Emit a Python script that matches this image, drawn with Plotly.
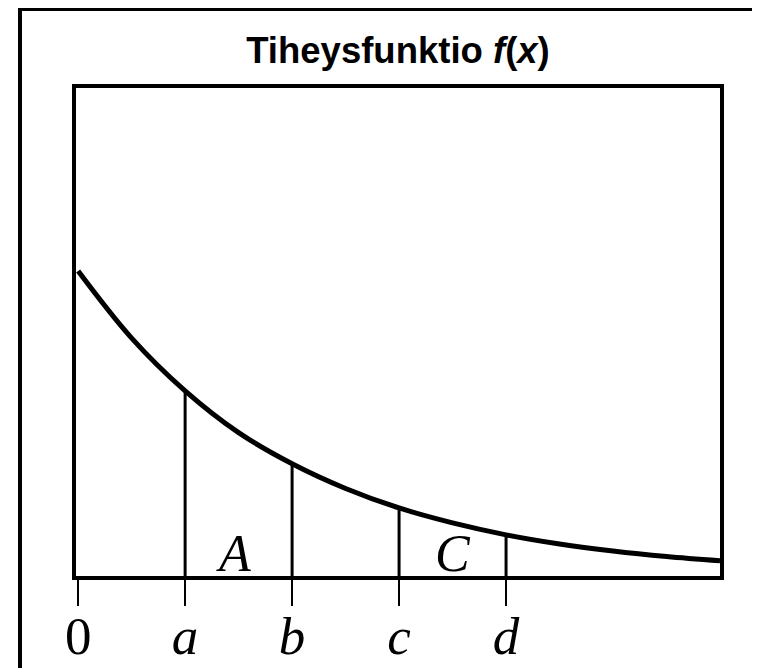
import plotly.graph_objects as go

# Read values (density curve samples)
curve_x = [0, 0.5, 1, 1.5, 2, 2.5, 3, 3.5, 4, 4.5, 5, 5.5, 6]
curve_y = [1.0, 0.78, 0.607, 0.47, 0.368, 0.287, 0.223, 0.174, 0.135, 0.105, 0.082, 0.064, 0.05]

# Marked points a, b, c, d and their curve heights
mark_x = [1, 2, 3, 4]
mark_y = [0.607, 0.368, 0.223, 0.135]

tick_vals = [0, 1, 2, 3, 4]
tick_text = ["0", "<i>a</i>", "<i>b</i>", "<i>c</i>", "<i>d</i>"]

area_labels = ["A", "C"]
area_x = [1.45, 3.5]
area_y = [0.075, 0.075]

title_text = "<b>Tiheysfunktio <i>f</i>(<i>x</i>)</b>"

# page body adds an 8px offset; layout below is expressed in figure pixels
L, T, PW, PH = 68, 80, 644, 488
W, H = 760, 668

fig = go.Figure()

fig.add_trace(go.Scatter(x=curve_x, y=curve_y, mode="lines",
                         line=dict(color="black", width=5, shape="spline"),
                         hoverinfo="skip", showlegend=False))

for xv, yv in zip(mark_x, mark_y):
    fig.add_trace(go.Scatter(x=[xv, xv], y=[0, yv], mode="lines",
                             line=dict(color="black", width=3),
                             hoverinfo="skip", showlegend=False))

for lab, xv, yv in zip(area_labels, area_x, area_y):
    fig.add_annotation(x=xv, y=yv, xref="x", yref="y", text=f"<i>{lab}</i>",
                       showarrow=False, xanchor="center", yanchor="middle",
                       font=dict(family="Liberation Serif", size=52, color="black"))

# outer frame
fig.add_shape(type="rect", xref="paper", yref="paper",
              x0=(12 - L) / PW, x1=(W + 20 - L) / PW,
              y0=(T + PH - (H + 30)) / PH, y1=(T + PH - 1) / PH,
              line=dict(color="black", width=4), fillcolor="rgba(0,0,0,0)")

fig.update_layout(
    width=W, height=H,
    margin=dict(l=L, r=W - L - PW, t=T, b=H - T - PH, autoexpand=False),
    paper_bgcolor="white", plot_bgcolor="white",
    title=dict(text=title_text, x=0.5, xref="paper", xanchor="center",
               y=1 - 42.0 / H, yref="container", yanchor="middle",
               font=dict(family="Liberation Sans", size=36.5, color="black")),
    xaxis=dict(range=[-0.02, 6.0], showgrid=False, zeroline=False, automargin=False,
               showline=True, linecolor="black", linewidth=4, mirror=True,
               ticks="outside", ticklen=26, tickwidth=2, tickcolor="black",
               ticklabelstandoff=-16,
               tickvals=tick_vals, ticktext=tick_text,
               tickfont=dict(family="Liberation Serif", size=53, color="black")),
    yaxis=dict(range=[0, 1.6], showgrid=False, zeroline=False, automargin=False,
               showline=True, linecolor="black", linewidth=4, mirror=True,
               showticklabels=False, ticks=""),
)

fig.write_html("out.html")
